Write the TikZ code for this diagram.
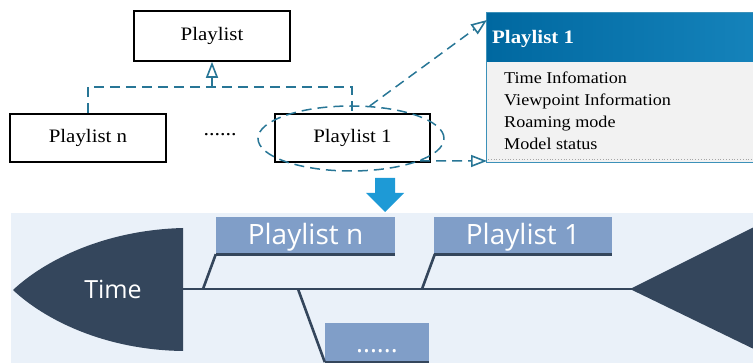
\documentclass[tikz,border=0pt]{standalone}
\usepackage{fontspec}
\usetikzlibrary{arrows.meta,shapes.geometric}
\newfontfamily\tnr[FakeStretch=1.1]{Liberation Serif}
\newfontfamily\osans{Open Sans}
\definecolor{dashc}{RGB}{40,118,150}
\definecolor{hdrL}{RGB}{0,104,160}
\definecolor{hdrR}{RGB}{22,132,188}
\definecolor{boxbd}{RGB}{60,145,185}
\definecolor{bodyc}{RGB}{242,242,242}
\definecolor{arrowc}{RGB}{30,154,214}
\definecolor{bgc}{RGB}{234,241,249}
\definecolor{navy}{RGB}{52,70,92}
\definecolor{lblc}{RGB}{128,158,200}
\tikzset{
  umlbox/.style={draw=black, line width=1.6pt, fill=white, inner sep=0pt,
    minimum height=48pt, font=\tnr\fontsize{19}{21}\selectfont},
  dashline/.style={draw=dashc, line width=1.5pt, dash pattern=on 10pt off 6pt},
  opentip/.style={-{Triangle[open, length=16pt, width=12pt, line width=1.6pt]}},
  itemtxt/.style={anchor=base west, inner sep=0pt, font=\tnr\fontsize{16.5}{18}\selectfont},
  lblbox/.style={fill=lblc, text=white, inner sep=0pt, minimum height=36pt,
    text height=20pt, text depth=0pt, font=\osans\fontsize{28}{30}\selectfont},
  uline/.style={draw=navy, line width=3pt},
  branch/.style={draw=navy, line width=2.6pt},
}
\begin{document}
\begin{tikzpicture}[x=1pt, y=-1pt]
\useasboundingbox (0,0) rectangle (753,363);
\begin{scope}
\clip (0,0) rectangle (753,363);
% ---------- top UML part ----------
\node[umlbox, minimum width=156pt, minimum height=50pt] (pl) at (212,36) {Playlist};
\node[umlbox, minimum width=156pt] (pln) at (88,138) {Playlist n};
\node[umlbox, minimum width=155pt] (pl1) at (352.5,138) {Playlist 1};
\node[inner sep=0pt, font=\tnr\fontsize{20}{22}\selectfont] (dots1) at (220,135) {......};
\coordinate (jn) at (88,87);
\coordinate (j1) at (352,87);
\coordinate (jm) at (212,87);
\draw[dashline] (pln.north -| jn) -- (jn) -- (j1) -- (pl1.north -| j1);
\draw[dashline, opentip] (jm) -- (pl.south);
\node[draw=dashc, line width=1.5pt, dash pattern=on 10pt off 6pt, ellipse,
  minimum width=186pt, minimum height=65pt, inner sep=0pt] (ell) at (351,138.5) {};
% ---------- detail box ----------
\coordinate (hdrtl) at (486,13);
\coordinate (hdrbr) at (770,62);
\coordinate (bodybr) at (770,163);
\shade[left color=hdrL, right color=hdrR] (hdrtl) rectangle (hdrbr);
\fill[bodyc] (486,62) rectangle (bodybr);
\draw[boxbd, line width=1pt] (hdrtl) rectangle (bodybr);
\draw[gray!70, line width=0.8pt, dotted] (488,159) -- (770,159);
\node[anchor=base west, inner sep=0pt, text=white, font=\tnr\bfseries\fontsize{19}{21}\selectfont] (hdr) at (492,44) {Playlist 1};
\node[itemtxt] (i1) at (504,84) {Time Infomation};
\node[itemtxt] (i2) at (504,106) {Viewpoint Information};
\node[itemtxt] (i3) at (504,128) {Roaming mode};
\node[itemtxt] (i4) at (504,150) {Model status};
\coordinate (tipA) at (487,20);
\coordinate (tipB) at (487,161);
\draw[dashline, opentip] (ell.60) -- (tipA);
\draw[dashline, opentip] (ell.-18) -- (tipB);
% ---------- big arrow ----------
\fill[arrowc] (375,178) -- (395,178) -- (395,193) -- (404,193) -- (385,212)
  -- (366,193) -- (375,193) -- cycle;
% ---------- fishbone part ----------
\fill[bgc] (11,213) rectangle (753,363);
\fill[navy] (183,228) -- (183,351) .. controls (105,350) and (45,320) .. (13,290)
  .. controls (45,260) and (105,230) .. (183,228) -- cycle;
\node[text=white, inner sep=0pt, anchor=base, font=\osans\fontsize{25}{27}\selectfont] (time) at (113,299) {Time};
\fill[navy] (630,289) -- (760,224) -- (760,352) -- cycle;
\coordinate (spL) at (183,289);
\coordinate (spR) at (632,289);
\draw[uline, line width=2.6pt] (spL) -- (spR);
\node[lblbox, minimum width=179pt] (bn) at (305.5,235) {Playlist n};
\node[lblbox, minimum width=178pt] (b1) at (523,235) {Playlist 1};
\node[lblbox, minimum width=104pt, minimum height=38pt, text height=22pt,
  font=\osans\fontsize{26}{28}\selectfont] (bd) at (377,342) {......};
\draw[uline] ([yshift=-1pt]bn.south west) -- ([yshift=-1pt]bn.south east);
\draw[uline] ([yshift=-1pt]b1.south west) -- ([yshift=-1pt]b1.south east);
\draw[uline] ([yshift=-1pt]bd.south west) -- ([yshift=-1pt]bd.south east);
\coordinate (fn) at (203,289);
\coordinate (f1) at (422,289);
\coordinate (fd) at (298,289);
\draw[branch] ([yshift=-1pt]bn.south west) -- (fn);
\draw[branch] ([xshift=1pt,yshift=-1pt]b1.south west) -- (f1);
\draw[branch] (fd) -- ([yshift=-1pt]bd.south west);
\end{scope}
\end{tikzpicture}
\end{document}
